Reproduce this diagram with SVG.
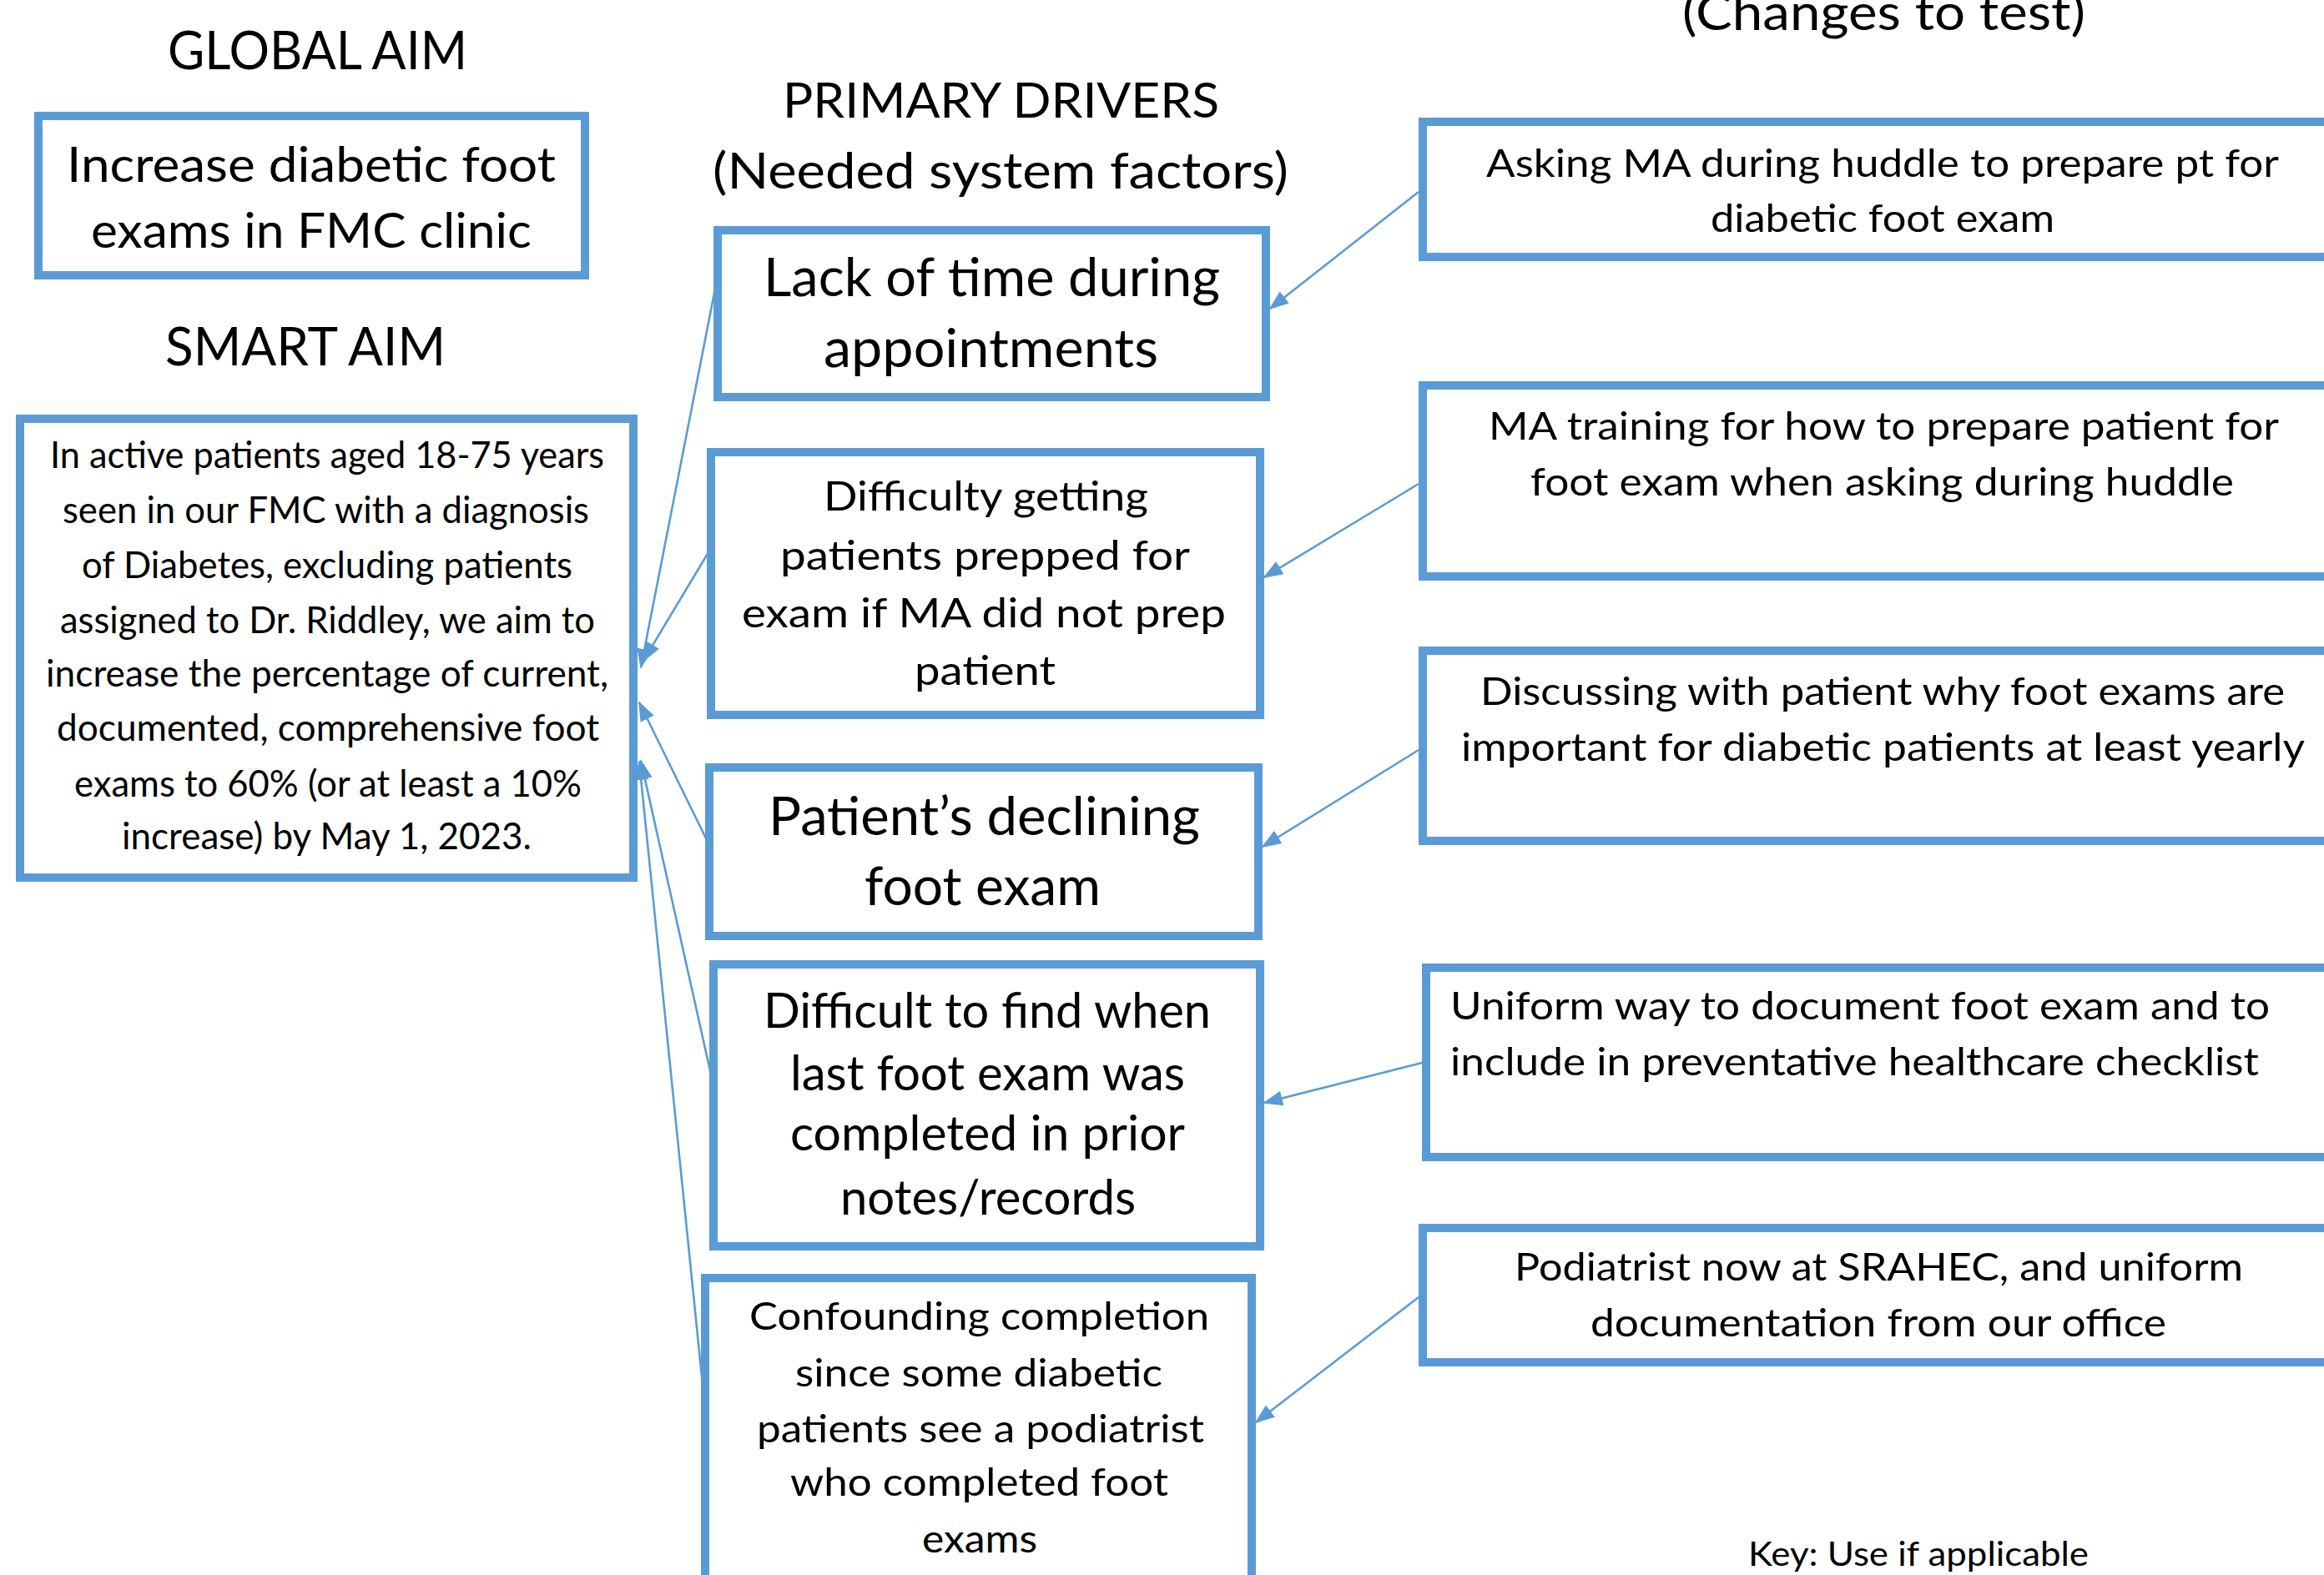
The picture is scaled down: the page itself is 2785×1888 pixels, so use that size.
<svg xmlns="http://www.w3.org/2000/svg" width="2785" height="1888" viewBox="0 0 2785 1888">
<style>
.box{fill:#ffffff;stroke:#5b9bd5;stroke-width:10}
.t{font-family:Lato,"Carlito","Liberation Sans",sans-serif;fill:#000000}
.conn{stroke:#5b9bd5;stroke-width:2.6;fill:none;marker-end:url(#ah)}
</style>
<defs>
<marker id="ah" markerUnits="userSpaceOnUse" markerWidth="24" markerHeight="20" refX="22" refY="10" orient="auto">
<path d="M0,1 L24,10 L0,19 z" fill="#5b9bd5"/>
</marker>
</defs>
<rect width="2785" height="1888" fill="#ffffff"/>

<g id="headers" class="t">
<text x="201" y="83" font-size="63" textLength="359" lengthAdjust="spacingAndGlyphs">GLOBAL AIM</text>
<text x="198" y="438" font-size="63" textLength="336" lengthAdjust="spacingAndGlyphs">SMART AIM</text>
<text x="938" y="141" font-size="59" textLength="523" lengthAdjust="spacingAndGlyphs">PRIMARY DRIVERS</text>
<text x="854" y="226" font-size="60" textLength="690" lengthAdjust="spacingAndGlyphs">(Needed system factors)</text>
<text x="2016" y="36" font-size="60" textLength="483" lengthAdjust="spacingAndGlyphs">(Changes to test)</text>
<text x="2095" y="1877" font-size="40" textLength="408" lengthAdjust="spacingAndGlyphs">Key: Use if applicable</text>
</g>

<g id="global-aim">
<rect class="box" x="46" y="139" width="655" height="191"/>
<g class="t" font-size="58">
<text x="80" y="218" textLength="586" lengthAdjust="spacingAndGlyphs">Increase diabetic foot</text>
<text x="109" y="297" textLength="528" lengthAdjust="spacingAndGlyphs">exams in FMC clinic</text>
</g>
</g>

<g id="smart-aim">
<rect class="box" x="24" y="502" width="735" height="550"/>
<g class="t" font-size="44">
<text x="60" y="561" textLength="664" lengthAdjust="spacingAndGlyphs">In active patients aged 18-75 years</text>
<text x="75" y="627" textLength="631" lengthAdjust="spacingAndGlyphs">seen in our FMC with a diagnosis</text>
<text x="98" y="693" textLength="588" lengthAdjust="spacingAndGlyphs">of Diabetes, excluding patients</text>
<text x="72" y="759" textLength="641" lengthAdjust="spacingAndGlyphs">assigned to Dr. Riddley, we aim to</text>
<text x="55" y="823" textLength="674" lengthAdjust="spacingAndGlyphs">increase the percentage of current,</text>
<text x="68" y="888" textLength="650" lengthAdjust="spacingAndGlyphs">documented, comprehensive foot</text>
<text x="89" y="955" textLength="608" lengthAdjust="spacingAndGlyphs">exams to 60% (or at least a 10%</text>
<text x="146" y="1018" textLength="491" lengthAdjust="spacingAndGlyphs">increase) by May 1, 2023.</text>
</g>
</g>

<g id="driver-time">
<rect class="box" x="860" y="276" width="657" height="200"/>
<g class="t" font-size="63">
<text x="915" y="355" textLength="547" lengthAdjust="spacingAndGlyphs">Lack of time during</text>
<text x="987" y="440" textLength="401" lengthAdjust="spacingAndGlyphs">appointments</text>
</g>
</g>

<g id="driver-prep">
<rect class="box" x="852" y="542" width="658" height="315"/>
<g class="t" font-size="48">
<text x="987" y="612" textLength="389" lengthAdjust="spacingAndGlyphs">Difficulty getting</text>
<text x="935" y="683" textLength="491" lengthAdjust="spacingAndGlyphs">patients prepped for</text>
<text x="889" y="752" textLength="580" lengthAdjust="spacingAndGlyphs">exam if MA did not prep</text>
<text x="1096" y="821" textLength="169" lengthAdjust="spacingAndGlyphs">patient</text>
</g>
</g>

<g id="driver-declining">
<rect class="box" x="850" y="920" width="658" height="202"/>
<g class="t" font-size="63">
<text x="921" y="1001" textLength="517" lengthAdjust="spacingAndGlyphs">Patient’s declining</text>
<text x="1036" y="1085" textLength="283" lengthAdjust="spacingAndGlyphs">foot exam</text>
</g>
</g>

<g id="driver-records">
<rect class="box" x="855" y="1156" width="655" height="338"/>
<g class="t" font-size="58">
<text x="915" y="1232" textLength="536" lengthAdjust="spacingAndGlyphs">Difficult to find when</text>
<text x="947" y="1307" textLength="473" lengthAdjust="spacingAndGlyphs">last foot exam was</text>
<text x="947" y="1379" textLength="473" lengthAdjust="spacingAndGlyphs">completed in prior</text>
<text x="1007" y="1456" textLength="354" lengthAdjust="spacingAndGlyphs">notes/records</text>
</g>
</g>

<g id="driver-podiatrist">
<rect class="box" x="845" y="1532" width="655" height="420"/>
<g class="t" font-size="46">
<text x="898" y="1594" textLength="551" lengthAdjust="spacingAndGlyphs">Confounding completion</text>
<text x="953" y="1662" textLength="440" lengthAdjust="spacingAndGlyphs">since some diabetic</text>
<text x="907" y="1729" textLength="536" lengthAdjust="spacingAndGlyphs">patients see a podiatrist</text>
<text x="947" y="1793" textLength="453" lengthAdjust="spacingAndGlyphs">who completed foot</text>
<text x="1105" y="1861" textLength="138" lengthAdjust="spacingAndGlyphs">exams</text>
</g>
</g>

<g id="change-huddle">
<rect class="box" x="1705" y="146" width="1110" height="162"/>
<g class="t" font-size="46">
<text x="1781" y="212" textLength="950" lengthAdjust="spacingAndGlyphs">Asking MA during huddle to prepare pt for</text>
<text x="2050" y="278" textLength="412" lengthAdjust="spacingAndGlyphs">diabetic foot exam</text>
</g>
</g>

<g id="change-training">
<rect class="box" x="1705" y="462" width="1110" height="229"/>
<g class="t" font-size="46">
<text x="1784" y="527" textLength="947" lengthAdjust="spacingAndGlyphs">MA training for how to prepare patient for</text>
<text x="1834" y="594" textLength="843" lengthAdjust="spacingAndGlyphs">foot exam when asking during huddle</text>
</g>
</g>

<g id="change-discussing">
<rect class="box" x="1705" y="780" width="1110" height="228"/>
<g class="t" font-size="46">
<text x="1774" y="845" textLength="964" lengthAdjust="spacingAndGlyphs">Discussing with patient why foot exams are</text>
<text x="1751" y="912" textLength="1011" lengthAdjust="spacingAndGlyphs">important for diabetic patients at least yearly</text>
</g>
</g>

<g id="change-uniform">
<rect class="box" x="1709" y="1160" width="1110" height="227"/>
<g class="t" font-size="46">
<text x="1738" y="1222" textLength="982" lengthAdjust="spacingAndGlyphs">Uniform way to document foot exam and to</text>
<text x="1738" y="1289" textLength="969" lengthAdjust="spacingAndGlyphs">include in preventative healthcare checklist</text>
</g>
</g>

<g id="change-srahec">
<rect class="box" x="1705" y="1472" width="1110" height="161"/>
<g class="t" font-size="46">
<text x="1815" y="1535" textLength="873" lengthAdjust="spacingAndGlyphs">Podiatrist now at SRAHEC, and uniform</text>
<text x="1906" y="1602" textLength="690" lengthAdjust="spacingAndGlyphs">documentation from our office</text>
</g>
</g>

<g id="connectors">
<line class="conn" x1="857" y1="346" x2="768" y2="800"/>
<line class="conn" x1="849" y1="662" x2="771" y2="792"/>
<line class="conn" x1="846" y1="1005" x2="766" y2="842"/>
<line class="conn" x1="852" y1="1288" x2="768" y2="912"/>
<line class="conn" x1="842" y1="1660" x2="766" y2="913"/>
<line class="conn" x1="1700" y1="230" x2="1522" y2="370"/>
<line class="conn" x1="1700" y1="580" x2="1515" y2="692"/>
<line class="conn" x1="1700" y1="899" x2="1513" y2="1015"/>
<line class="conn" x1="1704" y1="1274" x2="1515" y2="1322"/>
<line class="conn" x1="1700" y1="1555" x2="1505" y2="1705"/>
</g>
</svg>
